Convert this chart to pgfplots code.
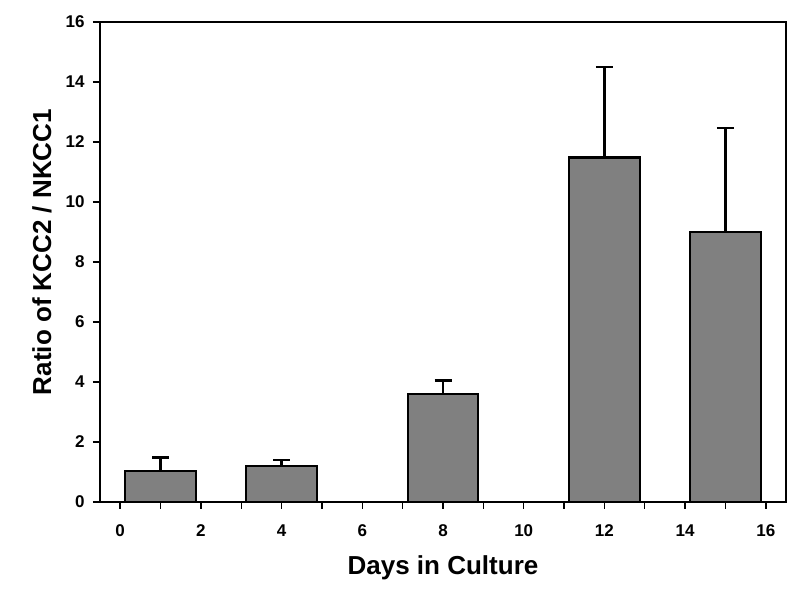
\documentclass[border=0pt]{standalone}
\usepackage{fontspec}
\setmainfont{Liberation Sans}
\usepackage{pgfplots}
\pgfplotsset{compat=1.18}
\begin{document}
\begin{tikzpicture}
\path[use as bounding box] (-100pt,-91pt) rectangle (700pt,502pt);
\begin{axis}[
  at={(0,0)}, anchor=south west,
  scale only axis, width=686pt, height=480pt,
  xmin=-0.5, xmax=16.5, ymin=0, ymax=16,
  xtick={0,2,...,16}, minor xtick={1,3,...,15},
  ytick={0,2,...,16},
  xtick pos=bottom, ytick pos=left,
  tick align=outside,
  major tick length=7pt, minor tick length=7pt,
  every tick/.style={black, line width=1.4pt},
  axis line style={line width=2.8pt},
  /pgf/number format/assume math mode=true,
  tick label style={font=\fontsize{17}{19}\selectfont\bfseries},
  xticklabel style={yshift=-12pt},
  yticklabel style={xshift=-5pt},
  xlabel={Days in Culture},
  ylabel={Ratio of KCC2 / NKCC1},
  label style={font=\fontsize{26}{30}\selectfont\bfseries},
  xlabel style={at={(axis description cs:0.5,0)}, anchor=center, yshift=-66pt},
  ylabel style={at={(axis description cs:0,0.5)}, anchor=center, yshift=58pt, xshift=10pt},
  ybar, bar width=1.75,
]
\addplot[fill=black!50, draw=black, line width=2.3pt,
  error bars/.cd, y dir=plus, y explicit,
  error bar style={line width=2.4pt, black},
  error mark options={rotate=90, mark size=8.5pt, line width=2.4pt, black}]
  coordinates {
  (1,1.04) +- (0,0.44)
  (4,1.19) +- (0,0.21)
  (8,3.60) +- (0,0.45)
  (12,11.48) +- (0,3.01)
  (15,9.00) +- (0,3.47)
};
\end{axis}
\end{tikzpicture}
\end{document}
